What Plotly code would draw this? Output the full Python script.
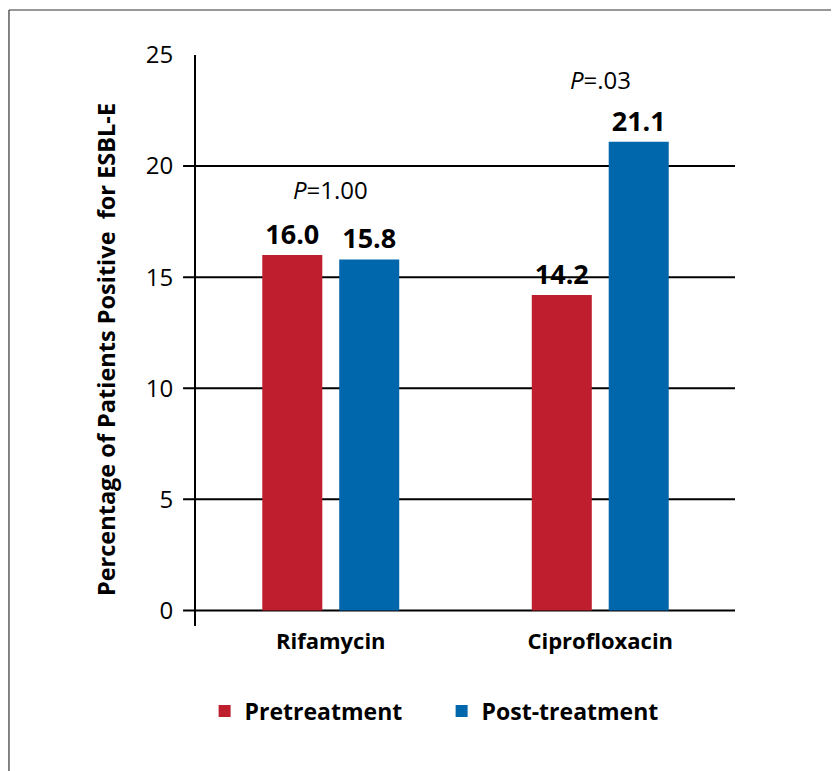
import plotly.graph_objects as go

categories = ["Rifamycin", "Ciprofloxacin"]
pretreatment = [16.0, 14.2]
post_treatment = [15.8, 21.1]
p_labels = ["<i>P</i>=1.00", "<i>P</i>=.03"]
p_label_y = [18.95, 23.9]
y_ticks = [0, 5, 10, 15, 20, 25]
grid_values = [0, 5, 10, 15, 20]

RED = "#BE1E2D"
BLUE = "#0067AC"
FONT = "Open Sans"

fig = go.Figure()
for name, vals, col in [("Pretreatment", pretreatment, RED), ("Post-treatment", post_treatment, BLUE)]:
    fig.add_trace(go.Bar(
        name=name, x=categories, y=vals,
        marker=dict(color=col, line=dict(width=0)),
        text=[f"{v:.1f}" for v in vals], textposition="outside",
        textfont=dict(size=27, color="black", family=FONT, weight="bold"),
        cliponaxis=False,
    ))

shapes = []
for v in grid_values:
    shapes.append(dict(type="line", xref="x domain", yref="y",
                       x0=-0.024, x1=1.0, y0=v, y1=v,
                       line=dict(color="black", width=2), layer="below"))
# outer frame (left and top edges visible)
shapes.append(dict(type="line", xref="paper", yref="paper",
                   x0=-0.347, x1=-0.347, y0=-0.5, y1=1.0788,
                   line=dict(color="#333333", width=1.2)))
shapes.append(dict(type="line", xref="paper", yref="paper",
                   x0=-0.347, x1=1.5, y0=1.0788, y1=1.0788,
                   line=dict(color="#333333", width=1.2)))

annotations = []
for cat, lab, yy in zip(categories, p_labels, p_label_y):
    annotations.append(dict(x=cat, y=yy, xref="x", yref="y", text=lab,
                            showarrow=False, font=dict(size=24, color="black", family=FONT)))
annotations.append(dict(x=-0.2004, y=0.485, xref="paper", yref="paper",
                        text="<b>Percentage of Patients Positive  for ESBL-E</b>",
                        textangle=-90, showarrow=False,
                        font=dict(size=23.5, color="black", family=FONT)))

fig.update_layout(
    width=831, height=763,
    margin=dict(l=188, r=104, t=47, b=145),
    paper_bgcolor="white", plot_bgcolor="white",
    barmode="group", bargap=0.429, bargroupgap=0.22,
    font=dict(family=FONT, color="black"),
    shapes=shapes, annotations=annotations,
    showlegend=True,
    legend=dict(orientation="h", x=0.016, xanchor="left", y=-0.149, yanchor="middle",
                font=dict(size=23, family=FONT, weight="bold", color="black"),
                itemwidth=30, entrywidth=192, traceorder="normal"),
    xaxis=dict(showline=False, showgrid=False, zeroline=False, ticks="",
               tickfont=dict(size=22, family=FONT, weight="bold", color="black")),
    yaxis=dict(range=[-0.7, 25], showline=True, linecolor="black", linewidth=2,
               showgrid=False, zeroline=False, tickvals=y_ticks,
               ticks="outside", ticklen=16, tickcolor="rgba(0,0,0,0)",
               tickfont=dict(size=24, family=FONT, color="black")),
)

fig.write_html("out.html")
